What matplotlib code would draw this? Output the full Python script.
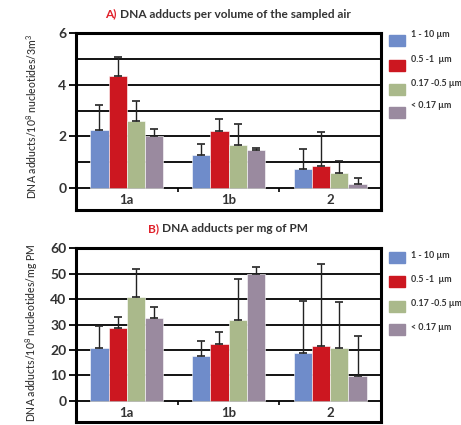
import matplotlib
matplotlib.use("Agg")
import matplotlib.pyplot as plt
from matplotlib.patches import Rectangle
import numpy as np

plt.rcParams['font.family'] = ['Lato', 'DejaVu Sans']

# data
groups = ["1a", "1b", "2"]
fractions = ["1 - 10 \u00b5m", "0.5 -1  \u00b5m", "0.17 -0.5 \u00b5m", "< 0.17 \u00b5m"]
colors = ["#6f8cca", "#cc1720", "#aab98b", "#9a8a9f"]

# A) per volume of sampled air
vol_mean = [[2.25, 1.28, 0.72],
            [4.33, 2.20, 0.86],
            [2.60, 1.65, 0.57],
            [2.00, 1.47, 0.14]]
vol_top = [[3.21, 1.70, 1.51],
           [5.06, 2.69, 2.17],
           [3.37, 2.47, 1.05],
           [2.28, 1.56, 0.39]]

# B) per mg of PM
pm_mean = [[20.7, 17.8, 18.7],
           [28.6, 22.3, 21.7],
           [40.7, 31.8, 20.8],
           [32.7, 49.7, 9.8]]
pm_top = [[29.5, 23.6, 39.3],
          [33.1, 27.0, 53.7],
          [51.9, 47.8, 38.8],
          [37.1, 52.5, 25.7]]

fig = plt.figure(figsize=(4.61, 4.25), dpi=100)
txt = "#333333"


def panel(rect, means, tops, ymin, ymax, step, labstep, lab_y, tick_len):
    ax = fig.add_axes(rect)
    x = np.arange(len(groups))
    w = 0.18
    for i in range(4):
        pos = x + (i - 1.5) * w
        m = np.array(means[i])
        err = np.array(tops[i]) - m
        ax.bar(pos, m, w, color=colors[i], edgecolor="white", linewidth=0.4, zorder=3)
        ax.errorbar(pos, m, yerr=[np.zeros_like(err), err], fmt="none",
                    ecolor="#222222", elinewidth=1.0, capsize=3, capthick=1.2, zorder=4)
    ax.set_xlim(-0.5, 2.5)
    ax.set_ylim(ymin, ymax)
    for g in np.arange(0, ymax + 0.001, step):
        ax.axhline(g, color="black", lw=1.3, zorder=2)
    ax.set_yticks(np.arange(0, ymax + 0.001, labstep))
    ax.set_xticks([])
    ax.tick_params(axis="y", length=5, width=1.3, color="black", labelsize=10,
                   labelcolor=txt, pad=2)
    for t in ax.get_yticklabels():
        t.set_fontweight("bold")
    for s in ax.spines.values():
        s.set_linewidth(2.2)
        s.set_color("black")
    ax.vlines([0.5, 1.5], -tick_len, 0, color="black", lw=1.2, zorder=2)
    for i, g in enumerate(groups):
        ax.text(i, lab_y, g, ha="center", va="center", fontsize=9.5,
                fontweight="bold", color=txt)
    return ax


axA = panel([0.1649, 0.5059, 0.6616, 0.4165], vol_mean, vol_top, -0.85, 6, 1, 2,
            -0.46, 0.15)
axB = panel([0.1649, 0.0064, 0.6616, 0.4094], pm_mean, pm_top, -8.4, 60, 10, 10,
            -4.8, 1.5)

fig.text(0.068, 0.725, "DNA adducts/10$^{\\mathregular{8}}$ nucleotides/3m$^{\\mathregular{3}}$",
         rotation=90, ha="center", va="center", fontsize=7.6, color=txt,
         fontweight="medium")
fig.text(0.068, 0.218, "DNA adducts/10$^{\\mathregular{8}}$ nucleotides/mg PM",
         rotation=90, ha="center", va="center", fontsize=7.6, color=txt,
         fontweight="medium")

# titles with red letter prefix
fig.canvas.draw()
for (yy, pre, rest) in [(0.967, "A) ", "DNA adducts per volume of the sampled air"),
                        (0.463, "B) ", "DNA adducts per mg of PM")]:
    a = fig.text(0, yy, pre, ha="left", va="center", fontsize=8.6,
                 fontweight="bold", color="#e0202a")
    b = fig.text(0, yy, rest, ha="left", va="center", fontsize=8.6,
                 fontweight="bold", color=txt)
    fig.canvas.draw()
    wa = a.get_window_extent().width / fig.bbox.width
    wb = b.get_window_extent().width / fig.bbox.width
    x0 = 0.4946 - (wa + wb) / 2
    a.set_x(x0)
    b.set_x(x0 + wa)

# legends drawn by hand
pw, ph = 16 / 461, 11 / 425
for top_y, offs in [(40.7, [0, 24.3, 48.3, 71.3]), (257.7, [0, 24, 48.3, 71.6])]:
    for i in range(4):
        yc = 1 - (top_y + offs[i]) / 425
        fig.patches.append(Rectangle((389 / 461, yc - ph / 2), pw, ph,
                                     transform=fig.transFigure, color=colors[i]))
        ty = yc + (6 / 425 if top_y < 100 else 2 / 425)
        fig.text(411 / 461, ty, fractions[i], ha="left", va="center", fontsize=6.4,
                 fontweight="bold", color=txt)

fig.savefig("out.png", dpi=100)
